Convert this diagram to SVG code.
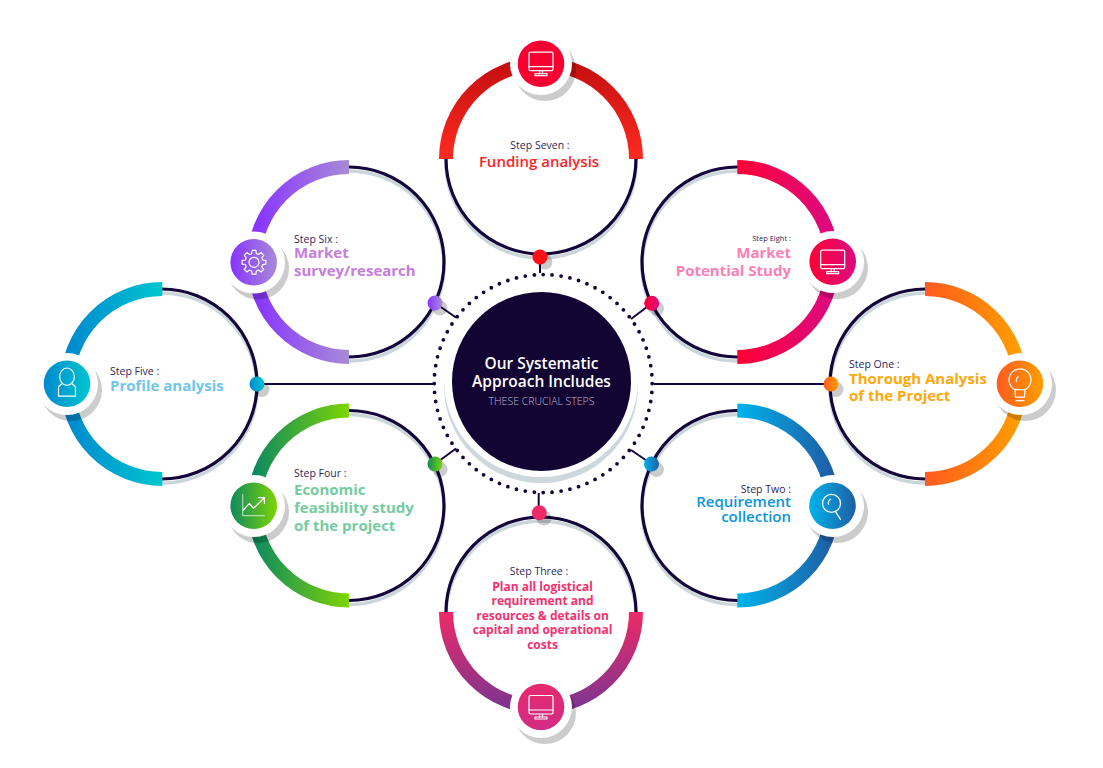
<svg xmlns="http://www.w3.org/2000/svg" xmlns:xlink="http://www.w3.org/1999/xlink" width="1103" height="768" viewBox="0 0 1103 768">
<style>
text{font-family:"Open Sans","Noto Sans","Liberation Sans",sans-serif}
.ring{fill:none;stroke:#14063a;stroke-width:3.2}
.rshadow{fill:none;stroke:#cbd6db;stroke-width:3.5}
.arc{fill:none;stroke-width:14}
.sh{fill:#000;opacity:.2}
.halo{fill:#fff}
.ic{fill:none;stroke:#fff;stroke-width:1.2;stroke-linecap:round;stroke-linejoin:round}
.step{font-size:10.5px;fill:#2f2657}
.t{font-size:15px;font-weight:700}
.s{font-size:15px;font-weight:600}
.conn{stroke:#14063a;stroke-width:2;fill:none}
</style>
<defs>
<linearGradient id="g1"><stop offset="0" stop-color="#ff5a1f"/><stop offset="1" stop-color="#ff9f00"/></linearGradient>
<linearGradient id="g2"><stop offset="0" stop-color="#00b3ec"/><stop offset="1" stop-color="#1f5ea5"/></linearGradient>
<linearGradient id="g3" x2="0" y2="1"><stop offset="0" stop-color="#ee2a66"/><stop offset="1" stop-color="#7d3590"/></linearGradient>
<linearGradient id="g3i" x2="0" y2="1"><stop offset="0" stop-color="#e62a6e"/><stop offset="1" stop-color="#d12c85"/></linearGradient>
<linearGradient id="g4"><stop offset="0" stop-color="#0d8a5f"/><stop offset="1" stop-color="#7ed404"/></linearGradient>
<linearGradient id="g5"><stop offset="0" stop-color="#0089d0"/><stop offset="1" stop-color="#00c6cf"/></linearGradient>
<linearGradient id="g6"><stop offset="0" stop-color="#8833ff"/><stop offset="1" stop-color="#a78bd6"/></linearGradient>
<linearGradient id="g7" x2="0" y2="1"><stop offset="0" stop-color="#c51010"/><stop offset="1" stop-color="#ff2a20"/></linearGradient>
<linearGradient id="g8"><stop offset="0" stop-color="#ff0035"/><stop offset="1" stop-color="#db0a80"/></linearGradient>
<g id="monitor" class="ic"><rect x="-12" y="-11.5" width="24" height="18.5" rx="1.5"/><path d="M-12,3H12M-1.5,7V10M1.5,7V10"/><rect x="-6" y="10" width="12" height="2"/></g>
</defs>

<g id="connectors" class="conn">
<path d="M257,384H433"/><path d="M654,384H831"/><path d="M540,257V273"/><path d="M538.7,493V513"/>
<path d="M435,303L456,317.5"/><path d="M651.5,303.5L631,319"/><path d="M435,464L456,448.5"/><path d="M651.5,464L631,450"/>
</g>

<g id="center">
<circle cx="543.2" cy="383.6" r="109" fill="none" stroke="#14063a" stroke-width="3.8" stroke-linecap="round" pathLength="76" stroke-dasharray="0 1"/>
<circle cx="541" cy="386" r="97" fill="#cdd8dc"/>
<circle cx="541" cy="380" r="97" fill="#fff"/>
<circle cx="541.5" cy="381.5" r="89.5" fill="#120534"/>
<text x="541.5" y="369" text-anchor="middle" font-size="15.5" font-weight="600" fill="#fff">Our Systematic</text>
<text x="541.5" y="387" text-anchor="middle" font-size="15.5" font-weight="600" fill="#fff">Approach Includes</text>
<text x="541.5" y="405" text-anchor="middle" font-size="10.5" font-weight="300" fill="#c2bcd2">THESE CRUCIAL STEPS</text>
</g>

<g id="step-seven">
<circle class="rshadow" cx="541" cy="163" r="95"/><circle class="ring" cx="541" cy="159" r="95"/>
<path class="arc" stroke="url(#g7)" d="M446,159A95,95 0 0 1 636,159"/>
<circle class="sh" cx="545" cy="70" r="31"/><circle class="halo" cx="541" cy="64" r="31"/>
<circle cx="541" cy="63.7" r="23.3" fill="#f90032"/>
<use href="#monitor" x="541" y="63.7"/>
<circle class="sh" cx="545" cy="262" r="7.5"/><circle cx="540" cy="257" r="7.5" fill="#ff1016"/>
<text class="step" x="540" y="149" text-anchor="middle">Step Seven :</text>
<text class="s" x="539" y="167" text-anchor="middle" fill="#ff2324">Funding analysis</text>
</g>

<g id="step-six">
<circle class="rshadow" cx="349" cy="266" r="95"/><circle class="ring" cx="349" cy="262" r="95"/>
<path class="arc" stroke="url(#g6)" d="M349,167A95,95 0 0 0 349,357"/>
<circle class="sh" cx="258" cy="268.5" r="31"/><circle class="halo" cx="254" cy="262.5" r="31"/>
<circle cx="253.7" cy="262.3" r="23.3" fill="url(#g6)"/>
<g class="ic" transform="translate(254,262.3)" stroke-width="1.5"><path d="M8.69,-2.33L11.85,-1.88V1.88L8.69,2.33L7.79,4.5L9.71,7.05L7.05,9.71L4.5,7.79L2.33,8.69L1.88,11.85H-1.88L-2.33,8.69L-4.5,7.79L-7.05,9.71L-9.71,7.05L-7.79,4.5L-8.69,2.33L-11.85,1.88V-1.88L-8.69,-2.33L-7.79,-4.5L-9.71,-7.05L-7.05,-9.71L-4.5,-7.79L-2.33,-8.69L-1.88,-11.85H1.88L2.33,-8.69L4.5,-7.79L7.05,-9.71L9.71,-7.05L7.79,-4.5Z"/><circle r="5"/></g>
<circle class="sh" cx="440" cy="308" r="7.5"/><circle cx="435" cy="303" r="7.5" fill="url(#g6)"/>
<text class="step" x="294" y="243">Step Six :</text>
<text class="t" x="294" y="258" fill="#c67ce0">Market</text>
<text class="t" x="294" y="276" fill="#c67ce0">survey/research</text>
</g>

<g id="step-five">
<circle class="rshadow" cx="162" cy="388" r="95"/><circle class="ring" cx="162" cy="384" r="95"/>
<path class="arc" stroke="url(#g5)" d="M162.3,289A95,95 0 0 0 162.3,479"/>
<circle class="sh" cx="71" cy="390" r="31"/><circle class="halo" cx="67" cy="384" r="31"/>
<circle cx="67" cy="383.7" r="23.3" fill="url(#g5)"/>
<g class="ic" transform="translate(67,383.7)" stroke="#cdeff6"><ellipse cx="0" cy="-7" rx="7.3" ry="8.7"/><path d="M-4.5,-0.5C-6,1.5 -8.5,2 -8.5,4V12.5H8.5V4C8.5,2 6,1.5 4.5,-0.5"/></g>
<circle class="sh" cx="262" cy="389.5" r="7.5"/><circle cx="257" cy="384" r="7.5" fill="url(#g5)"/>
<text class="step" x="110" y="375">Step Five :</text>
<text class="t" x="110" y="391" fill="#6ec6ea">Profile analysis</text>
</g>

<g id="step-four">
<circle class="rshadow" cx="349" cy="509.5" r="95"/><circle class="ring" cx="349" cy="505.5" r="95"/>
<path class="arc" stroke="url(#g4)" d="M349,410.5A95,95 0 0 0 349,600.5"/>
<circle class="sh" cx="258" cy="512" r="31"/><circle class="halo" cx="254" cy="506" r="31"/>
<circle cx="253.7" cy="505.7" r="23.3" fill="url(#g4)"/>
<g class="ic" transform="translate(253.7,505.7)"><path d="M-11,-11.3V10H10.7" opacity=".6"/><path d="M-10.3,4.3L-4.3,-2.3L-.3,2.7L10.7,-8M5,-8H10.7V-2.3"/></g>
<circle class="sh" cx="440" cy="469.5" r="7.5"/><circle cx="435" cy="464" r="7.5" fill="url(#g4)"/>
<text class="step" x="294" y="477">Step Four :</text>
<text class="t" x="294" y="495" fill="#74cca0">Economic</text>
<text class="t" x="294" y="513" fill="#74cca0">feasibility study</text>
<text class="t" x="294" y="531" fill="#74cca0">of the project</text>
</g>

<g id="step-three">
<circle class="rshadow" cx="541" cy="616" r="95"/><circle class="ring" cx="541" cy="612" r="95"/>
<path class="arc" stroke="url(#g3)" d="M446,612A95,95 0 0 0 636,612"/>
<circle class="sh" cx="545" cy="713" r="31"/><circle class="halo" cx="541" cy="707" r="31"/>
<circle cx="541" cy="707" r="23.3" fill="url(#g3i)"/>
<use href="#monitor" x="541" y="707"/>
<circle class="sh" cx="544" cy="518" r="7.5"/><circle cx="539.3" cy="512.7" r="7.5" fill="#ee2a6b"/>
<text class="step" x="539" y="575" text-anchor="middle">Step Three :</text>
<g font-size="12" font-weight="700" fill="#f5306f" text-anchor="middle">
<text x="542.5" y="591">Plan all logistical</text>
<text x="542.5" y="605.3">requirement and</text>
<text x="542.5" y="620">resources &amp; details on</text>
<text x="542.5" y="634.3">capital and operational</text>
<text x="542.5" y="648.7">costs</text>
</g>
</g>

<g id="step-two">
<circle class="rshadow" cx="737" cy="509.5" r="95"/><circle class="ring" cx="737" cy="505.5" r="95"/>
<path class="arc" stroke="url(#g2)" d="M737.3,410.5A95,95 0 0 1 737.3,600.5"/>
<circle class="sh" cx="837" cy="512" r="31"/><circle class="halo" cx="833" cy="506" r="31"/>
<circle cx="832.5" cy="505.7" r="23.3" fill="url(#g2)"/>
<g class="ic" transform="translate(832.5,505.7)"><circle cx="-1" cy="-2.3" r="9"/><path d="M3,6L8,13.7M-4,-1.5A4.5,4.5 0 0 1 -2,-6.5"/></g>
<circle class="sh" cx="656.5" cy="469.5" r="7.5"/><circle cx="651.5" cy="464" r="7.5" fill="url(#g2)"/>
<text class="step" x="791" y="493" text-anchor="end">Step Two :</text>
<text class="s" x="791" y="507" text-anchor="end" fill="#0a96d9">Requirement</text>
<text class="s" x="791" y="522" text-anchor="end" fill="#0a96d9">collection</text>
</g>

<g id="step-one">
<circle class="rshadow" cx="925" cy="388" r="95"/><circle class="ring" cx="925" cy="384" r="95"/>
<path class="arc" stroke="url(#g1)" d="M925,289A95,95 0 0 1 925,479"/>
<circle class="sh" cx="1025" cy="390" r="31"/><circle class="halo" cx="1021" cy="384" r="31"/>
<circle cx="1020" cy="383.7" r="23.3" fill="url(#g1)"/>
<g class="ic" transform="translate(1020,383.7)"><path d="M-5,6A11,11 0 1 1 5,6H-5L-4.5,13.5H4.5L5,6M-4,17H4M-3.5,-2A5,5 0 0 1 -2,-7"/></g>
<circle class="sh" cx="836" cy="389.5" r="7.5"/><circle cx="831" cy="384" r="7.5" fill="url(#g1)"/>
<text class="step" x="849" y="368">Step One :</text>
<text class="t" x="849" y="383.5" fill="#ffa80a">Thorough Analysis</text>
<text class="t" x="849" y="401" fill="#ffa80a">of the Project</text>
</g>

<g id="step-eight">
<circle class="rshadow" cx="737" cy="266" r="95"/><circle class="ring" cx="737" cy="262" r="95"/>
<path class="arc" stroke="url(#g8)" d="M737.3,167A95,95 0 0 1 737.3,357"/>
<circle class="sh" cx="837" cy="268" r="31"/><circle class="halo" cx="833" cy="262" r="31"/>
<circle cx="832.7" cy="261.7" r="23.3" fill="url(#g8)"/>
<use href="#monitor" x="832.7" y="261.7"/>
<circle class="sh" cx="656.5" cy="308.5" r="7.5"/><circle cx="651.7" cy="303.3" r="7.5" fill="url(#g8)"/>
<text class="step" x="791" y="241" text-anchor="end" style="font-size:7.5px">Step Eight :</text>
<text class="t" x="791" y="258" text-anchor="end" fill="#ff7fb5">Market</text>
<text class="t" x="791" y="276" text-anchor="end" fill="#ff7fb5">Potential Study</text>
</g>
</svg>
